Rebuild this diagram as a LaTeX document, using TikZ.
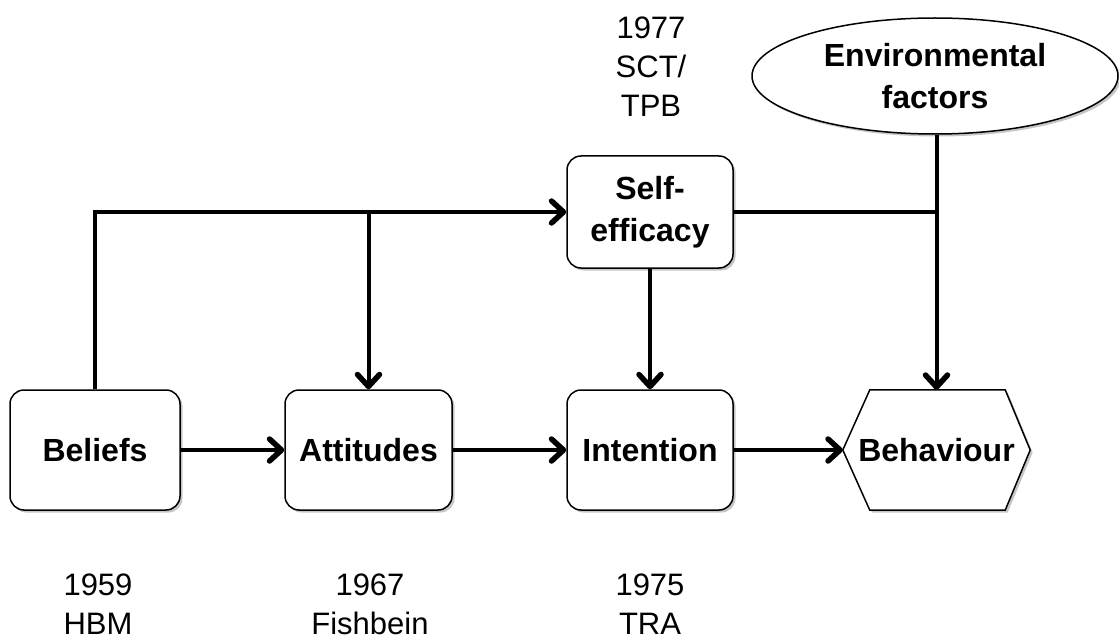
\documentclass[tikz,border=0pt]{standalone}
\usepackage{fontspec}
\setmainfont{Liberation Sans}
\usetikzlibrary{arrows.meta,shapes.geometric,shadows}
\begin{document}
\begin{tikzpicture}[x=1pt,y=-1pt,
  box/.style={draw=black, line width=1.5pt, rounded corners=14pt, fill=white,
    inner sep=0pt, align=center, font=\fontsize{32}{42}\selectfont\bfseries,
    drop shadow={shadow xshift=2.5pt, shadow yshift=-2.5pt, opacity=0.45, fill=gray}},
  plain/.style={inner sep=0pt, align=center, font=\fontsize{31}{39}\selectfont},
  conn/.style={line width=4pt},
  arr/.style={conn, -{Straight Barb[length=12pt, width=22pt, line width=5.5pt 0, round]}},
]
\useasboundingbox (0,0) rectangle (1119,639);
% boxes
\node[box, minimum width=170pt, minimum height=120pt] (bel) at (95,450) {Beliefs};
\node[box, minimum width=167pt, minimum height=120pt] (att) at (368.5,450) {Attitudes};
\node[box, minimum width=166pt, minimum height=120pt] (int) at (650,450) {Intention};
\node[box, minimum width=166pt, minimum height=112pt] (se) at (650,212) {Self-\\efficacy};
\node[box, ellipse, rounded corners=0pt, minimum width=366pt, minimum height=116pt] (env) at (935,76) {Environmental\\factors};
% hexagon
\node[inner sep=0pt, minimum width=187pt, minimum height=120pt] (beh) at (936.5,450) {};
\draw[line width=1.5pt, fill=white, line join=miter,
  drop shadow={shadow xshift=2.5pt, shadow yshift=-2.5pt, opacity=0.45, fill=gray}]
  (beh.west) -- ([xshift=27pt]beh.north west) -- ([xshift=-25pt]beh.north east)
  -- (beh.east) -- ([xshift=-25pt]beh.south east) -- ([xshift=27pt]beh.south west) -- cycle;
\node[inner sep=0pt, font=\fontsize{32}{42}\selectfont\bfseries] (behlabel) at (beh.center) {Behaviour};
% labels
\node[plain] (l1977) at (651,67) {1977\\SCT/\\TPB};
\node[plain] (l1959) at (98,604) {1959\\HBM};
\node[plain] (l1967) at (370,604) {1967\\Fishbein};
\node[plain] (l1975) at (650,604) {1975\\TRA};
% connectors
\draw[arr] (bel.east) -- (att.west);
\draw[arr] (att.east) -- (int.west);
\draw[arr] (int.east) -- (beh.west);
\draw[arr] (bel.north) |- (se.west);
\coordinate (attjoin) at (att.north |- se.west);
\draw[arr] (attjoin) -- (att.north);
\draw[arr] (se.south) -- (int.north);
\coordinate (envjoin) at (beh.north |- se.east);
\draw[conn] (se.east) -- (envjoin);
\draw[arr] (beh.north |- env.south) -- (beh.north);
\end{tikzpicture}
\end{document}
